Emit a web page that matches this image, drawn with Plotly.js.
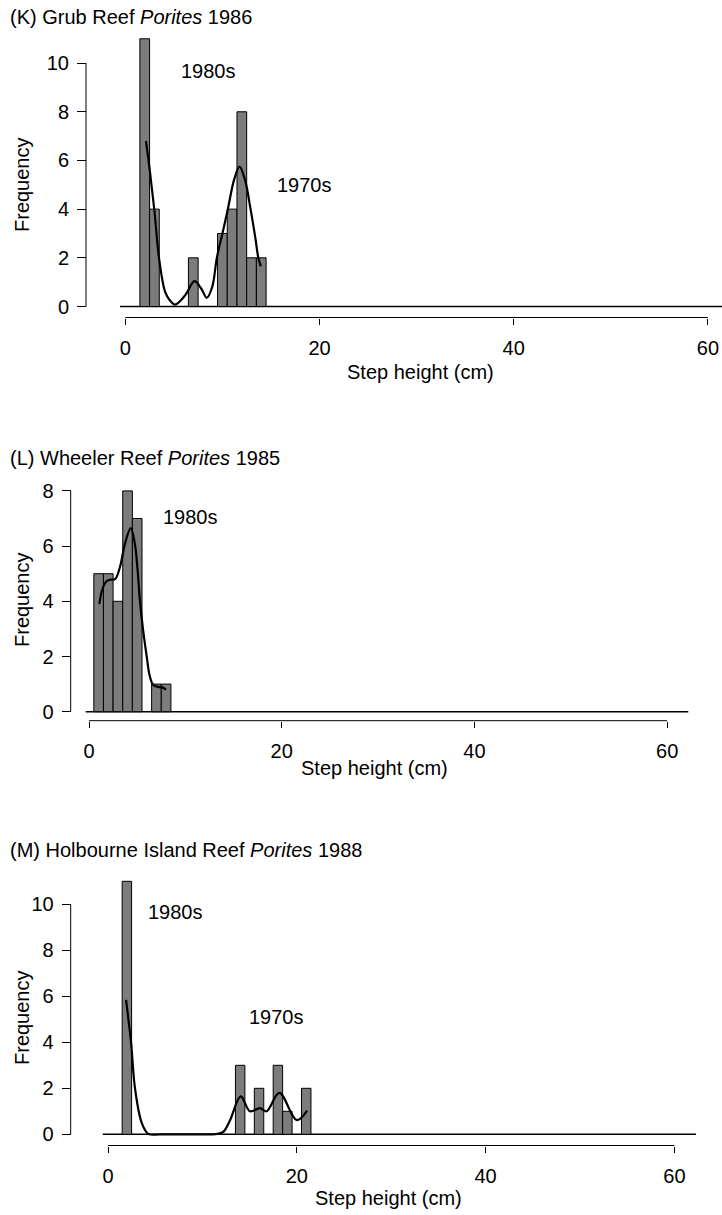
<!DOCTYPE html>
<html>
<head>
<meta charset="utf-8">
<script src="https://cdn.plot.ly/plotly-3.0.1.min.js"></script>
<style>html,body{margin:0;padding:0;background:#fff;}#chart{width:722px;height:1215px;}</style>
</head>
<body>
<div id="chart"></div>
<script>
// ---------- data ----------
const kBins = [2, 3, 7, 10, 11, 12, 13, 14];
const kFreq = [11, 4, 2, 3, 4, 8, 2, 2];
const kCurveX = [2.13, 2.55, 2.98, 3.47, 4.1, 4.6, 5.12, 6.15, 7.13, 7.8, 8.4, 8.95, 9.43, 10.0, 10.56, 11.2, 11.76, 12.33, 12.9, 13.4, 13.7, 13.96];
const kCurveY = [6.8, 5.5, 4.0, 2.0, 0.6, 0.25, 0.08, 0.45, 1.04, 0.75, 0.36, 0.8, 2.0, 3.0, 4.0, 5.2, 5.75, 5.2, 4.0, 2.8, 2.0, 1.65];

const lBins = [1, 2, 3, 4, 5, 7, 8];
const lFreq = [5, 5, 4, 8, 7, 1, 1];
const lCurveX = [1.07, 1.4, 1.8, 2.18, 2.7, 3.22, 3.74, 4.33, 4.75, 5.05, 5.29, 5.6, 5.99, 6.3, 6.67, 7.2, 7.6, 7.99];
const lCurveY = [3.9, 4.45, 4.72, 4.78, 4.8, 5.25, 6.1, 6.65, 6.1, 5.1, 4.0, 3.0, 2.0, 1.3, 0.97, 0.9, 0.88, 0.8];

const mBins = [2, 14, 16, 18, 19, 21];
const mFreq = [11, 3, 2, 3, 1, 2];
const mCurveX = [1.91, 2.44, 2.86, 3.57, 4.27, 5.5, 7.5, 9.5, 11.4, 12.2, 12.92, 14.06, 15.04, 16.1, 16.8, 18.15, 19.99, 21.1];
const mCurveY = [5.84, 4.0, 2.0, 0.5, 0.02, 0, 0, 0, 0.01, 0.1, 0.6, 1.65, 1.0, 1.14, 1.0, 1.8, 0.62, 1.03];

const xTicks = [0, 20, 40, 60];
const kYTicks = [0, 2, 4, 6, 8, 10];
const lYTicks = [0, 2, 4, 6, 8];
const mYTicks = [0, 2, 4, 6, 8, 10];

const titles = ['(K) Grub Reef <i>Porites</i> 1986', '(L) Wheeler Reef <i>Porites</i> 1985', '(M) Holbourne Island Reef <i>Porites</i> 1988'];
const xTitle = 'Step height (cm)';
const yTitle = 'Frequency';

// ---------- geometry (pixels) ----------
const W = 722, H = 1215;
const fx = p => p / W;
const fy = p => 1 - p / H;
const FONT = {family: 'Liberation Sans, Arial, Helvetica, sans-serif', size: 20, color: '#000'};

const panels = [
  {bins: kBins, freq: kFreq, cx: kCurveX, cy: kCurveY, yt: kYTicks, ytop: 10,
   dom: [120, 722], x0: 125.3, xs: 9.71, y0: 306.5, ys: 24.34, axisY: 317.5, topPx: 30,
   yAxisPx: 86, titleY: 17.5, xTitlePos: [420, 372], freqY: 185,
   labels: [['1980s', 8.6, 9.67], ['1970s', 18.5, 5.0]]},
  {bins: lBins, freq: lFreq, cx: lCurveX, cy: lCurveY, yt: lYTicks, ytop: 8,
   dom: [85.7, 688.3], x0: 89, xs: 9.636, y0: 711.7, ys: 27.6, axisY: 720.7, topPx: 475,
   yAxisPx: 70.7, titleY: 457.5, xTitlePos: [374, 768], freqY: 600,
   labels: [['1980s', 10.5, 7.04]]},
  {bins: mBins, freq: mFreq, cx: mCurveX, cy: mCurveY, yt: mYTicks, ytop: 10,
   dom: [102.7, 696], x0: 108, xs: 9.44, y0: 1134.3, ys: 23, axisY: 1145.5, topPx: 870,
   yAxisPx: 70.7, titleY: 850, xTitlePos: [388, 1198], freqY: 1018,
   labels: [['1980s', 7.1, 9.68], ['1970s', 17.9, 5.12]]}
];

const data = [];
const layout = {
  width: W, height: H, margin: {l: 0, r: 0, t: 0, b: 0},
  paper_bgcolor: '#fff', plot_bgcolor: 'rgba(0,0,0,0)',
  showlegend: false, font: FONT, shapes: [], annotations: []
};

panels.forEach((p, i) => {
  const n = i === 0 ? '' : String(i + 1);
  const xa = 'x' + n, ya = 'y' + n;
  const xr = [(p.dom[0] - p.x0) / p.xs, (p.dom[1] - p.x0) / p.xs];
  const yr = [-(p.axisY - p.y0) / p.ys, (p.y0 - p.topPx) / p.ys];

  data.push({type: 'bar', x: p.bins, y: p.freq, width: 1, xaxis: xa, yaxis: ya,
    marker: {color: 'rgb(124,124,124)', line: {color: '#000', width: 1}}, hoverinfo: 'skip'});
  data.push({type: 'scatter', mode: 'lines', x: p.cx, y: p.cy, xaxis: xa, yaxis: ya,
    line: {color: '#000', width: 2.2, shape: 'spline', smoothing: 1}, hoverinfo: 'skip'});

  layout['xaxis' + n] = {
    domain: [fx(p.dom[0]), fx(p.dom[1])], range: xr, anchor: ya,
    tickmode: 'array', tickvals: xTicks, ticktext: xTicks.map(String),
    ticks: 'outside', ticklen: 6, tickwidth: 1, tickcolor: '#000', ticklabelstandoff: 6,
    showline: false, showgrid: false, zeroline: false, fixedrange: true,
    tickfont: FONT
  };
  layout['yaxis' + n] = {
    domain: [fy(p.axisY), fy(p.topPx)], range: yr, anchor: 'free', position: fx(p.yAxisPx),
    tickmode: 'array', tickvals: p.yt, ticktext: p.yt.map(String),
    ticks: 'outside', ticklen: 9, tickwidth: 1, tickcolor: '#000', ticklabelstandoff: 4,
    showline: false, showgrid: false, zeroline: false, fixedrange: true,
    tickfont: FONT
  };

  // R-style axis lines (span first to last tick only)
  layout.shapes.push({type: 'line', xref: xa, yref: ya + ' domain', x0: xTicks[0], x1: xTicks[xTicks.length - 1], y0: 0, y1: 0,
    line: {color: '#000', width: 1}});
  layout.shapes.push({type: 'line', xref: 'paper', yref: ya, x0: fx(p.yAxisPx), x1: fx(p.yAxisPx), y0: 0, y1: p.ytop,
    line: {color: '#000', width: 1}});
  // baseline at zero
  layout.shapes.push({type: 'line', xref: xa + ' domain', yref: ya, x0: 0, x1: 1, y0: 0, y1: 0,
    line: {color: '#000', width: 1.5}, layer: 'below'});

  // panel title
  layout.annotations.push({text: titles[i], xref: 'paper', yref: 'paper', x: fx(8), y: fy(p.titleY),
    xanchor: 'left', yanchor: 'middle', showarrow: false, font: FONT});
  // x title
  layout.annotations.push({text: xTitle, xref: 'paper', yref: 'paper', x: fx(p.xTitlePos[0]), y: fy(p.xTitlePos[1]),
    xanchor: 'center', yanchor: 'middle', showarrow: false, font: FONT});
  // y title
  layout.annotations.push({text: yTitle, xref: 'paper', yref: 'paper', x: fx(22), y: fy(p.freqY),
    xanchor: 'center', yanchor: 'middle', textangle: -90, showarrow: false, font: FONT});
  // decade labels
  p.labels.forEach(l => layout.annotations.push({text: l[0], xref: xa, yref: ya, x: l[1], y: l[2],
    xanchor: 'center', yanchor: 'middle', showarrow: false, font: FONT}));
});

Plotly.newPlot('chart', data, layout, {staticPlot: true, displayModeBar: false});
</script>
</body>
</html>
